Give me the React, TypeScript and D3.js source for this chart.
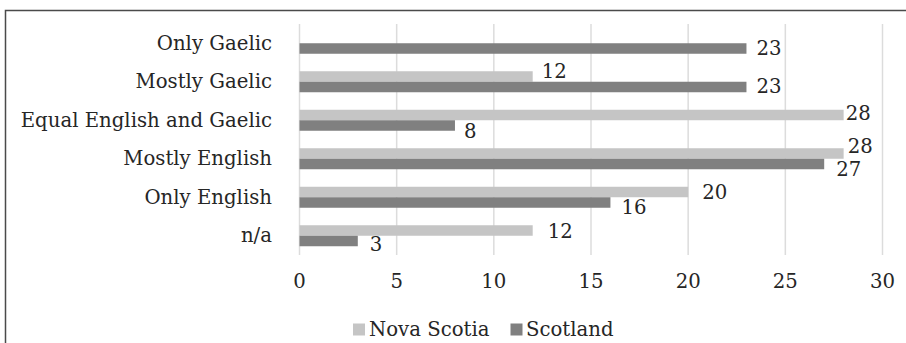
import React from "react";
import * as d3 from "d3";

const categories = [
  "Only Gaelic",
  "Mostly Gaelic",
  "Equal English and Gaelic",
  "Mostly English",
  "Only English",
  "n/a",
];
const seriesNames = ["Nova Scotia", "Scotland"];
const novaScotia = [0, 12, 28, 28, 20, 12];
const scotland = [23, 23, 8, 27, 16, 3];
const xTicks = [0, 5, 10, 15, 20, 25, 30];

// label nudges (styling: avoid overlaps like the original)
const nsLabelDx = [10, 9, 2, 4, 14, 15];
const nsLabelDy = [0, -5, -1, -7, 0.5, 1];
const scLabelDx = [10, 10, 9, 12, 11, 12];
const scLabelDy = [0, -1, 6, 5.5, 5.5, 4];

const colors = ["#c5c5c5", "#808080"];
const FONT = "'DejaVu Serif', serif";
const TEXT = "#262626";

export default function App() {
  const W = 906;
  const H = 343;
  const x = d3.scaleLinear().domain([0, 30]).range([299.5, 882.5]);
  const y = d3
    .scaleBand<string>()
    .domain(categories)
    .range([24, 255])
    .paddingInner(0.4545)
    .paddingOuter(0.2273);
  const inner = d3
    .scaleBand<string>()
    .domain(seriesNames)
    .range([0, y.bandwidth()]);
  const values = [novaScotia, scotland];
  const dxs = [nsLabelDx, scLabelDx];
  const dys = [nsLabelDy, scLabelDy];
  const fs = 19.7;

  return (
    <svg
      width={W}
      height={H}
      style={{ position: "fixed", left: 0, top: 0, background: "#fff" }}
      fontFamily={FONT}
    >
      <rect x={0} y={0} width={W} height={H} fill="#fff" />
      <rect
        x={5.5}
        y={10.5}
        width={W + 10}
        height={H + 10}
        fill="none"
        stroke="#4a4a4a"
        strokeWidth={1.5}
      />
      {xTicks.map((t) => (
        <line
          key={"g" + t}
          x1={x(t)}
          x2={x(t)}
          y1={24}
          y2={255}
          stroke="#dcdcdc"
          strokeWidth={1.5}
        />
      ))}
      {xTicks.map((t) => (
        <text
          key={"t" + t}
          x={x(t)}
          y={288}
          textAnchor="middle"
          fontSize={fs}
          fill={TEXT}
        >
          {t}
        </text>
      ))}
      {categories.map((c) => (
        <text
          key={"c" + c}
          x={272}
          y={(y(c) ?? 0) + y.bandwidth() / 2}
          dominantBaseline="central"
          textAnchor="end"
          fontSize={fs}
          fill={TEXT}
        >
          {c}
        </text>
      ))}
      {seriesNames.map((s, si) =>
        categories.map((c, ci) => {
          const v = values[si][ci];
          const by = (y(c) ?? 0) + (inner(s) ?? 0);
          const bh = inner.bandwidth();
          return (
            <g key={s + c}>
              <rect
                x={x(0)}
                y={by}
                width={x(v) - x(0)}
                height={bh}
                fill={colors[si]}
              />
              {v > 0 && (
                <text
                  x={x(v) + dxs[si][ci]}
                  y={by + bh / 2 + dys[si][ci]}
                  dominantBaseline="central"
                  fontSize={fs}
                  fill={TEXT}
                >
                  {v}
                </text>
              )}
            </g>
          );
        })
      )}
      <g>
        <rect x={353} y={323.5} width={12} height={12} fill={colors[0]} />
        <text x={369} y={336} fontSize={fs} fill={TEXT}>
          {seriesNames[0]}
        </text>
        <rect x={510.5} y={323.5} width={12} height={12} fill={colors[1]} />
        <text x={526} y={336} fontSize={fs} fill={TEXT}>
          {seriesNames[1]}
        </text>
      </g>
    </svg>
  );
}
